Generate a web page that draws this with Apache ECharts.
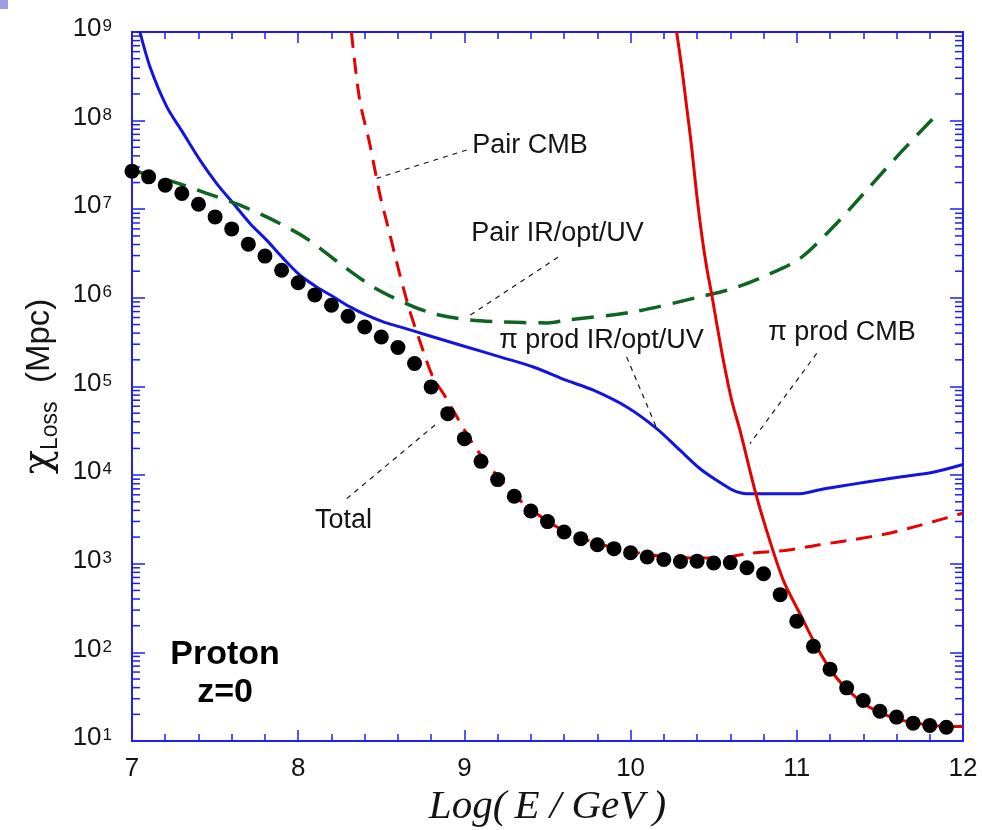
<!DOCTYPE html>
<html>
<head>
<meta charset="utf-8">
<title>Proton energy-loss lengths</title>
<script src="https://cdn.jsdelivr.net/npm/echarts@6/dist/echarts.min.js"></script>
<style>
  html, body { margin: 0; padding: 0; background: #ffffff; }
  #chart { width: 982px; height: 830px; }
</style>
</head>
<body>
<div id="chart"></div>
<script>
// Energy grid of the "Total" points, log10(E/GeV)
const totalE = [7.0, 7.1, 7.2, 7.3, 7.4, 7.5, 7.6, 7.7, 7.8, 7.9,
                8.0, 8.1, 8.2, 8.3, 8.4, 8.5, 8.6, 8.7, 8.8, 8.9,
                9.0, 9.1, 9.2, 9.3, 9.4, 9.5, 9.6, 9.7, 9.8, 9.9,
                10.0, 10.1, 10.2, 10.3, 10.4, 10.5, 10.6, 10.7, 10.8, 10.9,
                11.0, 11.1, 11.2, 11.3, 11.4, 11.5, 11.6, 11.7, 11.8, 11.9];
// Total loss length (Mpc)
const totalLoss = [2.69e7, 2.32e7, 1.87e7, 1.51e7, 1.14e7, 8.2e6, 6.0e6, 4.04e6, 2.96e6, 2.05e6,
                   1.48e6, 1.08e6, 8.26e5, 6.21e5, 4.70e5, 3.62e5, 2.75e5, 1.82e5, 9.9e4, 4.94e4,
                   2.58e4, 1.43e4, 8.9e3, 5.77e3, 3.94e3, 2.99e3, 2.28e3, 1.92e3, 1.64e3, 1.48e3,
                   1.33e3, 1.19e3, 1.12e3, 1.06e3, 1.07e3, 1.02e3, 1.03e3, 902, 771, 448,
                   225, 117, 64.7, 39.8, 28.6, 21.7, 18.6, 15.9, 15.0, 14.3];

// Pion production on IR/optical/UV background
const piIrE = [7.048, 7.108, 7.209, 7.309, 7.409, 7.510, 7.610, 7.710, 7.810, 7.910,
               8.011, 8.111, 8.211, 8.312, 8.412, 8.512, 8.613, 8.713, 8.813, 9.014,
               9.214, 9.415, 9.615, 9.776, 9.977, 10.157, 10.297, 10.418, 10.518, 10.618,
               10.699, 11.019, 11.140, 11.26, 11.42, 11.62, 11.82, 12.0];
const piIrLoss = [1.0e9, 4.06e8, 1.44e8, 7.18e7, 3.59e7, 1.95e7, 1.16e7, 6.92e6, 4.48e6, 2.79e6,
                  1.80e6, 1.33e6, 1.03e6, 7.91e5, 6.37e5, 5.36e5, 4.70e5, 4.13e5, 3.62e5, 2.79e5,
                  2.16e5, 1.66e5, 1.17e5, 9.08e4, 5.87e4, 3.35e4, 1.91e4, 1.18e4, 8.73e3, 6.73e3,
                  6.18e3, 6.18e3, 6.85e3, 7.48e3, 8.36e3, 9.53e3, 1.08e4, 1.32e4];

// Pair production on IR/optical/UV background
const pairIrE = [7.0, 7.25, 7.45, 7.65, 7.85, 8.05, 8.25, 8.45, 8.65, 8.81,
                 9.01, 9.21, 9.50, 9.615, 10.016, 10.418, 10.618, 10.819, 11.019, 11.22,
                 11.42, 11.62, 11.84];
const pairIrLoss = [2.75e7, 2.04e7, 1.51e7, 1.11e7, 7.53e6, 4.68e6, 2.44e6, 1.33e6, 8.63e5, 6.67e5,
                    5.70e5, 5.36e5, 5.22e5, 5.60e5, 6.95e5, 1.03e6, 1.28e6, 1.80e6, 2.78e6, 6.34e6,
                    1.64e7, 4.27e7, 1.16e8];

// Pair production on the CMB
const pairCmbE = [8.32, 8.37, 8.43, 8.49, 8.55, 8.61, 8.67, 8.73, 8.81, 8.88,
                  9.05, 9.17, 9.3, 9.4, 9.6, 9.8, 10.0, 10.2, 10.4, 10.58,
                  10.70, 10.94, 11.14, 11.34, 11.54, 11.74, 12.0];
const pairCmbLoss = [1.0e9, 1.71e8, 5.53e7, 1.51e7, 5.33e6, 1.88e6, 7.26e5, 3.33e5, 1.28e5, 7.96e4,
                     2.27e4, 1.13e4, 6.0e3, 4.1e3, 2.34e3, 1.70e3, 1.38e3, 1.20e3, 1.16e3, 1.19e3,
                     1.30e3, 1.42e3, 1.64e3, 1.87e3, 2.18e3, 2.71e3, 3.72e3];

// Pion production on the CMB
const piCmbE = [10.277, 10.307, 10.337, 10.367, 10.397, 10.427, 10.457, 10.487, 10.518, 10.558,
                10.608, 10.658, 10.748, 10.818, 10.919, 11.019, 11.12, 11.22, 11.32, 11.42,
                11.52, 11.62, 11.82, 12.0];
const piCmbLoss = [1.0e9, 4.06e8, 1.44e8, 5.07e7, 1.51e7, 5.33e6, 2.24e6, 1.12e6, 5.14e5, 1.98e5,
                   7.0e4, 3.21e4, 6.73e3, 2.38e3, 649, 273, 115, 57.4, 35.6, 25.1,
                   20.2, 17.3, 15.0, 14.6];

// Curve labels and their anchor points (data coordinates)
const noteText = ['Pair CMB', 'Pair IR/opt/UV', 'π prod IR/opt/UV', 'π prod CMB', 'Total'];
const noteE    = [9.395, 9.560, 9.825, 11.272, 8.273];
const noteLoss = [5.3e7, 5.37e6, 3.33e5, 4.09e5, 3.09e3];

// Dashed leader lines from each label to its curve: [E0, E1], [loss0, loss1]
const leaderE    = [[9.014, 8.472], [9.563, 9.034], [9.976, 10.158], [11.12, 10.718], [8.292, 8.833]];
const leaderLoss = [[4.66e7, 2.23e7], [2.88e6, 6.37e5], [2.16e5, 3.35e4], [2.36e5, 2.27e4], [5.43e3, 3.81e4]];

// Panel tag
const tagText = 'Proton\nz=0';
const tagE = 7.56;
const tagLoss = 58;

// Axis ranges and tick labels
const xTicks = ['7', '8', '9', '10', '11', '12'];
const yExponents = [1, 2, 3, 4, 5, 6, 7, 8, 9];
const minorMultipliers = [2, 3, 4, 5, 6, 7, 8, 9];

const AXIS_BLUE = '#1f1fee';
const CURVE_BLUE = '#1414e0';
const RED = '#e60000';
const GREEN = '#0f6423';
const INK = '#141414';
const SANS = '"Liberation Sans", Arial, Helvetica, sans-serif';

const pairs = (xs, ys) => xs.map((x, i) => [x, ys[i]]);

// Positions of the logarithmic minor ticks (2..9 within each decade)
const minorTickValues = [];
for (let d = 0; d < yExponents.length - 1; d++) {
  for (const m of minorMultipliers) {
    minorTickValues.push([7, m * Math.pow(10, yExponents[d])]);
  }
}

const chart = echarts.init(document.getElementById('chart'), null, { renderer: 'canvas' });

const sharedX = {
  type: 'value', min: 7, max: 12, interval: 1,
  axisLine: { show: true, onZero: false, lineStyle: { color: AXIS_BLUE, width: 2 } },
  axisTick: { show: true, inside: true, length: 11, lineStyle: { color: AXIS_BLUE, width: 1.5 } },
  minorTick: { show: true, splitNumber: 5, length: 7, lineStyle: { color: AXIS_BLUE, width: 1.5 } },
  splitLine: { show: false }
};
const sharedY = {
  type: 'log', logBase: 10, min: 10, max: 1e9, splitNumber: 8,
  axisLine: { show: true, onZero: false, lineStyle: { color: AXIS_BLUE, width: 2 } },
  axisTick: { show: true, inside: true, length: 13, lineStyle: { color: AXIS_BLUE, width: 1.5 } },
  splitLine: { show: false }
};

const leaderSeries = leaderE.map((es, i) => ({
  type: 'line', xAxisIndex: 0, yAxisIndex: 0,
  data: pairs(es, leaderLoss[i]),
  symbol: 'none', silent: true, z: 4,
  lineStyle: { color: INK, width: 1.2, type: [5, 5] }
}));

chart.setOption({
  animation: false,
  backgroundColor: '#ffffff',
  grid: { left: 132, right: 19, top: 32, bottom: 89, containLabel: false, outerBoundsMode: 'none' },
  xAxis: [
    Object.assign({}, sharedX, {
      position: 'bottom',
      name: 'Log(\u2009E / GeV\u2009)', nameLocation: 'middle', nameGap: 36,
      nameTextStyle: { fontFamily: '"Liberation Serif", "Times New Roman", serif', fontStyle: 'italic', fontSize: 41, color: INK },
      axisLabel: {
        show: true, margin: 15, color: INK, fontFamily: SANS, fontSize: 26,
        formatter: (v) => xTicks[Math.round(v) - 7]
      }
    }),
    Object.assign({}, sharedX, { position: 'top', axisLabel: { show: false } })
  ],
  yAxis: [
    Object.assign({}, sharedY, {
      position: 'left',
      name: '{chi|χ}{sub|Loss}{m|  (Mpc)}',
      nameLocation: 'middle', nameRotate: 90, nameGap: 70,
      nameTextStyle: {
        color: INK,
        rich: {
          chi: { fontFamily: '"DejaVu Serif", "Liberation Serif", serif', fontSize: 40, lineHeight: 44, verticalAlign: 'middle', color: INK },
          sub: { fontFamily: SANS, fontSize: 23, lineHeight: 23, verticalAlign: 'bottom', color: INK },
          m: { fontFamily: SANS, fontSize: 33, lineHeight: 44, verticalAlign: 'middle', color: INK }
        }
      },
      axisLabel: {
        show: true, margin: 20, color: INK,
        formatter: (v) => {
          const e = Math.round(Math.log10(v));
          return yExponents.indexOf(e) >= 0 ? '{b|10}{s|' + e + '}' : '';
        },
        rich: {
          b: { fontFamily: SANS, fontSize: 26, lineHeight: 28, padding: [0, 0, 6, 0], verticalAlign: 'middle', color: INK },
          s: { fontFamily: SANS, fontSize: 17, lineHeight: 17, padding: [0, 0, 20, 1], verticalAlign: 'top', color: INK }
        }
      }
    }),
    Object.assign({}, sharedY, { position: 'right', axisLabel: { show: false } })
  ],
  graphic: [
    { type: 'rect', left: 0, top: 0, shape: { width: 8, height: 9 }, style: { fill: '#9c9ce6' } }
  ],
  series: [
    {
      // log minor ticks on the left and right frame
      type: 'custom', xAxisIndex: 0, yAxisIndex: 0, silent: true, z: 1,
      data: minorTickValues,
      renderItem: (params, api) => {
        const left = api.coord([7, api.value(1)]);
        const right = api.coord([12, api.value(1)]);
        const st = { stroke: AXIS_BLUE, lineWidth: 1.5 };
        return {
          type: 'group',
          children: [
            { type: 'line', shape: { x1: left[0], y1: left[1], x2: left[0] + 8, y2: left[1] }, style: st },
            { type: 'line', shape: { x1: right[0], y1: right[1], x2: right[0] - 8, y2: right[1] }, style: st }
          ]
        };
      }
    },
    {
      name: 'π prod IR/opt/UV', type: 'line', data: pairs(piIrE, piIrLoss),
      symbol: 'none', smooth: 0.3, z: 3,
      lineStyle: { color: CURVE_BLUE, width: 3 }
    },
    {
      name: 'Pair IR/opt/UV', type: 'line', data: pairs(pairIrE, pairIrLoss),
      symbol: 'none', smooth: 0.3, z: 3,
      lineStyle: { color: GREEN, width: 3.5, type: [22, 12] }
    },
    {
      name: 'Pair CMB', type: 'line', data: pairs(pairCmbE, pairCmbLoss),
      symbol: 'none', smooth: 0.3, z: 3,
      lineStyle: { color: RED, width: 3, type: [16, 10] }
    },
    {
      name: 'π prod CMB', type: 'line', data: pairs(piCmbE, piCmbLoss),
      symbol: 'none', smooth: 0.3, z: 3,
      lineStyle: { color: RED, width: 3 }
    },
    ...leaderSeries,
    {
      name: 'Total', type: 'scatter', data: pairs(totalE, totalLoss),
      symbol: 'circle', symbolSize: 15, z: 6,
      itemStyle: { color: '#000', opacity: 1 }
    },
    {
      // curve labels
      type: 'scatter', silent: true, z: 7,
      data: noteText.map((t, i) => ({ value: [noteE[i], noteLoss[i]], name: t })),
      symbolSize: 0,
      itemStyle: { opacity: 1 },
      label: {
        show: true, position: 'inside', formatter: (p) => p.name,
        fontFamily: SANS, fontSize: 27, color: INK, opacity: 1
      }
    },
    {
      // panel tag
      type: 'scatter', silent: true, z: 7,
      data: [{ value: [tagE, tagLoss], name: tagText }],
      symbolSize: 0,
      itemStyle: { opacity: 1 },
      label: {
        show: true, position: 'inside', formatter: (p) => p.name, align: 'center',
        fontFamily: SANS, fontSize: 34, fontWeight: 'bold', lineHeight: 38, color: '#000', opacity: 1
      }
    }
  ]
});
</script>
</body>
</html>
